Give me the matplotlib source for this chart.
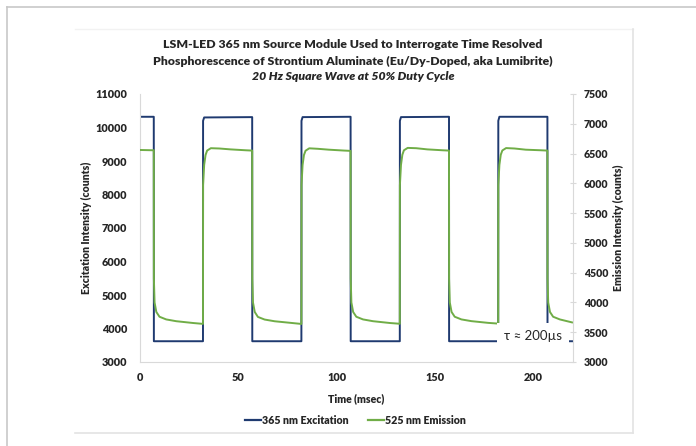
import matplotlib.pyplot as plt
from matplotlib.lines import Line2D

plt.rcParams['font.family'] = ['Lato', 'DejaVu Sans']

# 365 nm excitation (left axis, counts)
exc_t = [0, 7, 7.05, 32, 32.05, 32.6, 57, 57.05, 82, 82.05, 82.6, 107, 107.05,
         132, 132.05, 132.6, 157, 157.05, 182, 182.05, 182.6, 207, 207.05, 219.5]
exc_v = [10320, 10320, 3620, 3620, 10200, 10300, 10310, 3620, 3620, 10200, 10310, 10320, 3620,
         3620, 10200, 10310, 10320, 3620, 3620, 10200, 10320, 10320, 3620, 3620]

# 525 nm emission (right axis, counts)
emi_t = [0, 7,
         7.05, 7.4, 8.3, 9.9, 13.3, 18.4, 26.9, 32,
         32.05, 32.6, 33.3, 34.1, 36, 40.3, 46, 53.8, 57,
         57.05, 57.4, 58.3, 59.9, 63.3, 68.4, 76.9, 82,
         82.05, 82.6, 83.3, 84.1, 86, 90.3, 96, 103.8, 107,
         107.05, 107.4, 108.3, 109.9, 113.3, 118.4, 126.9, 132,
         132.05, 132.6, 133.3, 134.1, 136, 140.3, 146, 153.8, 157,
         157.05, 157.4, 158.3, 159.9, 163.3, 168.4, 176.9, 182,
         182.05, 182.6, 183.3, 184.1, 186, 190.3, 196, 203.8, 207,
         207.05, 207.4, 208.3, 209.9, 213.3, 219.5]
emi_v = [6560, 6555,
         4400, 4000, 3840, 3760, 3715, 3685, 3655, 3640,
         5970, 6310, 6475, 6550, 6590, 6585, 6570, 6555, 6550,
         4400, 4000, 3840, 3757, 3713, 3684, 3656, 3639,
         5970, 6307, 6475, 6547, 6588, 6580, 6565, 6550, 6545,
         4400, 4000, 3840, 3760, 3715, 3685, 3655, 3642,
         5970, 6310, 6480, 6555, 6595, 6590, 6570, 6555, 6550,
         4400, 4000, 3840, 3760, 3715, 3686, 3657, 3645,
         5970, 6310, 6480, 6552, 6592, 6585, 6565, 6555, 6550,
         4400, 4000, 3840, 3760, 3715, 3665]

left_ticks = [3000, 4000, 5000, 6000, 7000, 8000, 9000, 10000, 11000]
right_ticks = [3000, 3500, 4000, 4500, 5000, 5500, 6000, 6500, 7000, 7500]
x_ticks = [0, 50, 100, 150, 200]

blue = '#1f3a70'
green = '#70ad47'
grey = '#d9d9d9'
txt = '#262626'

fig = plt.figure(figsize=(6.96, 4.46), dpi=100)
ax = fig.add_axes([140/696, 1 - 362/446, 433/696, 268/446])
ax2 = ax.twinx()

ax.plot(exc_t, exc_v, color=blue, lw=1.4)
ax2.plot(emi_t, emi_v, color=green, lw=1.4)

ax.set_xlim(0, 220)
ax.set_ylim(3000, 11000)
ax2.set_ylim(3000, 7500)
ax.set_xticks(x_ticks)
ax.set_yticks(left_ticks)
ax2.set_yticks(right_ticks)

for a in (ax, ax2):
    for s in a.spines.values():
        s.set_color(grey)
    a.spines['top'].set_visible(False)
ax.spines['right'].set_visible(False)
ax2.spines['left'].set_visible(False)
ax2.spines['bottom'].set_visible(False)

ax.tick_params(axis='both', length=0, labelsize=7.8, pad=9, labelcolor=txt)
ax.tick_params(axis='x', pad=7)
ax2.tick_params(axis='y', direction='inout', length=4, color=grey, labelsize=7.6,
                pad=6, labelcolor=txt)
for lab in ax.get_xticklabels() + ax.get_yticklabels() + ax2.get_yticklabels():
    lab.set_fontweight('heavy')

ax.set_xlabel('Time (msec)', fontsize=7.6, fontweight='heavy', color=txt)
ax.xaxis.set_label_coords(0.5, -(393 - 362) / 268)
ax.set_ylabel('Excitation Intensity (counts)', fontsize=7.6, fontweight='heavy', color=txt)
ax.yaxis.set_label_coords((92 - 140) / 433, 0.5)
ax2.set_ylabel('Emission Intensity (counts)', fontsize=7.6, fontweight='heavy', color=txt,
               rotation=90, va='center')
ax2.yaxis.set_label_coords((618 - 140) / 433, 0.5)

ax2.text(199.5, 3435, 'τ ≈ 200µs', ha='center', va='center', fontsize=9.5, color=txt,
         zorder=10, bbox=dict(facecolor='white', edgecolor='none', pad=5))

# title
fig.text(353/696, 1 - 44/446, 'LSM-LED 365 nm Source Module Used to Interrogate Time Resolved',
         ha='center', va='center', fontsize=8.8, fontweight='heavy', color=txt)
fig.text(353/696, 1 - 61/446, 'Phosphorescence of Strontium Aluminate (Eu/Dy-Doped, aka Lumibrite)',
         ha='center', va='center', fontsize=8.8, fontweight='heavy', color=txt)
fig.text(353/696, 1 - 77/446, '20 Hz Square Wave at 50% Duty Cycle',
         ha='center', va='center', fontsize=8.8, fontweight='heavy', style='italic', color=txt)

handles = [Line2D([], [], color=blue, lw=1.6), Line2D([], [], color=green, lw=1.6)]
leg = fig.legend(handles, ['365 nm Excitation', '525 nm Emission'], loc='center',
                 bbox_to_anchor=(355/696, 1 - 420/446), ncol=2, frameon=False,
                 handlelength=1.5, handletextpad=0.1, columnspacing=1.8,
                 prop={'size': 7.7, 'weight': 'heavy'})
for t in leg.get_texts():
    t.set_color(txt)

# chart borders
fig.add_artist(Line2D([7/696, 1], [1 - 7/446, 1 - 7/446], color='#c8c8c8', lw=1.2))
fig.add_artist(Line2D([7/696, 7/696], [0, 1 - 7/446], color='#c8c8c8', lw=1.2))
fig.add_artist(Line2D([75/696, 633/696], [1 - 29/446, 1 - 29/446], color='#f2f2f2', lw=1))
fig.add_artist(Line2D([633/696, 633/696], [1 - 433/446, 1 - 29/446], color='#e3e3e3', lw=1.2))
fig.add_artist(Line2D([75/696, 633/696], [1 - 433/446, 1 - 433/446], color='#e3e3e3', lw=1.2))

plt.savefig('out.png', dpi=100)
